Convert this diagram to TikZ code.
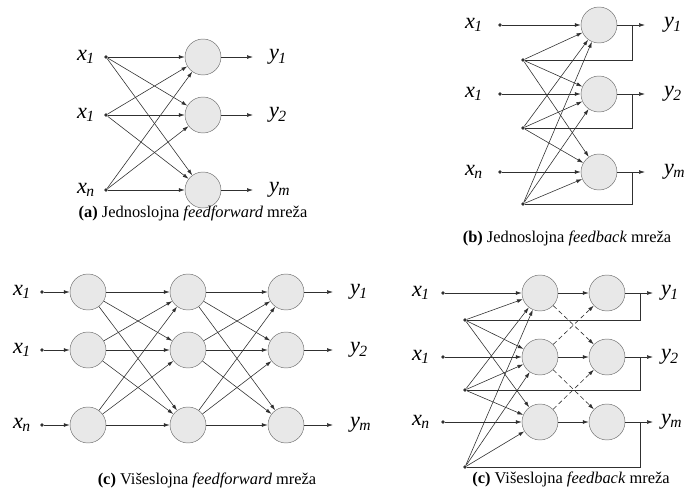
\documentclass[tikz,border=0pt]{standalone}
\usepackage{fontspec}
\setmainfont{Liberation Serif}
\usetikzlibrary{arrows.meta, positioning, calc}
\definecolor{nnline}{HTML}{303030}
\definecolor{nnfill}{HTML}{E8E8E8}
\definecolor{nnedge}{HTML}{6E6E6E}
\newcommand{\vlab}[2]{\textit{#1}\textsubscript{\kern-0.5pt\textit{#2}}}

\begin{document}
\begin{tikzpicture}[x=0.03cm, y=-0.03cm,
  neuron/.style={circle, draw=nnedge, fill=nnfill, minimum size=1.08cm, inner sep=0pt},
  inpt/.style={circle, fill=nnline, inner sep=0pt, minimum size=3.2pt},
  syn/.style={draw=nnline, line width=0.5pt, -{Latex[length=5pt,width=3.2pt]}},
  fb/.style={draw=nnline, line width=0.5pt},
  lab/.style={font=\fontsize{19}{19}\selectfont},
  captext/.style={font=\fontsize{14}{16}\selectfont}]
  \useasboundingbox (0,0) rectangle (693,494);

  % (a) single layer feedforward
  \foreach \i/\y/\s/\t in {1/57/1/1, 2/115/1/2, 3/190/n/m} {
    \node[lab, anchor=east] (ax\i) at (99,\y) {\vlab{x}{\s}};
    \node[inpt] (ai\i) at (106,\y) {};
    \node[neuron] (an\i) at (203,\y) {};
    \coordinate (ao\i) at (253,\y);
    \node[lab, anchor=west] (ay\i) at (265,\y) {\vlab{y}{\t}};
  }
  \foreach \i in {1,2,3} {
    \foreach \j in {1,2,3}
      \draw[syn] (ai\i) -- (an\j);
    \draw[syn] (an\i) -- (ao\i);
  }
  \node[captext] (capa) at (193,213) {\textbf{(a)} Jednoslojna \textit{feedforward} mreža};

  % (b) single layer feedback
  \foreach \i/\y/\h/\s/\t in {1/25/60/1/1, 2/94/128/1/2, 3/172/204/n/m} {
    \node[lab, anchor=east] (bx\i) at (487,\y) {\vlab{x}{\s}};
    \node[inpt] (bi\i) at (500,\y) {};
    \node[inpt] (bh\i) at (523,\h) {};
    \node[neuron] (bn\i) at (599,\y) {};
    \coordinate (bc\i) at (632,\y);
    \coordinate (bo\i) at (645,\y);
    \node[lab, anchor=west] (by\i) at (660,\y) {\vlab{y}{\t}};
  }
  \foreach \i in {1,2,3} {
    \draw[syn] (bi\i) -- (bn\i);
    \draw[syn] (bn\i) -- (bo\i);
    \draw[fb] (bc\i) |- (bh\i);
    \foreach \j in {1,2,3}
      \draw[syn] (bh\i) -- (bn\j);
  }
  \node[captext] (capb) at (567,238) {\textbf{(b)} Jednoslojna \textit{feedback} mreža};

  % (c) multilayer feedforward
  \foreach \i/\y/\s/\t in {1/292/1/1, 2/350/1/2, 3/425/n/m} {
    \node[lab, anchor=east] (cx\i) at (35,\y) {\vlab{x}{\s}};
    \node[inpt] (ci\i) at (42,\y) {};
    \node[neuron] (ca\i) at (88,\y) {};
    \node[neuron] (cb\i) at (188,\y) {};
    \node[neuron] (cc\i) at (286,\y) {};
    \coordinate (co\i) at (333,\y);
    \node[lab, anchor=west] (cy\i) at (346,\y) {\vlab{y}{\t}};
  }
  \foreach \i in {1,2,3} {
    \draw[syn] (ci\i) -- (ca\i);
    \draw[syn] (cc\i) -- (co\i);
    \foreach \j in {1,2,3} {
      \draw[syn] (ca\i) -- (cb\j);
      \draw[syn] (cb\i) -- (cc\j);
    }
  }
  \node[captext] (capc) at (207,480) {\textbf{(c)} Višeslojna \textit{feedforward} mreža};

  % (d) multilayer feedback
  \foreach \i/\y/\h/\s/\t in {1/293/320/1/1, 2/357/390/1/2, 3/422/467/n/m} {
    \node[lab, anchor=east] (dx\i) at (434,\y) {\vlab{x}{\s}};
    \node[inpt] (di\i) at (443,\y) {};
    \node[inpt] (dh\i) at (465,\h) {};
    \node[neuron] (da\i) at (540,\y) {};
    \node[neuron] (db\i) at (607,\y) {};
    \coordinate (dc\i) at (640,\y);
    \coordinate (dout\i) at (653,\y);
    \node[lab, anchor=west] (dy\i) at (657,\y) {\vlab{y}{\t}};
  }
  \foreach \i in {1,2,3} {
    \draw[syn] (di\i) -- (da\i);
    \draw[syn] (da\i) -- (db\i);
    \draw[syn] (db\i) -- (dout\i);
    \draw[fb] (dc\i) |- (dh\i);
    \foreach \j in {1,2,3}
      \draw[syn] (dh\i) -- (da\j);
  }
  \foreach \i/\j in {1/2, 2/1, 2/3, 3/2}
    \draw[syn, dash pattern=on 4pt off 2.5pt] (da\i) -- (db\j);
  \node[captext] (capd) at (571,479) {\textbf{(c)} Višeslojna \textit{feedback} mreža};
\end{tikzpicture}
\end{document}
